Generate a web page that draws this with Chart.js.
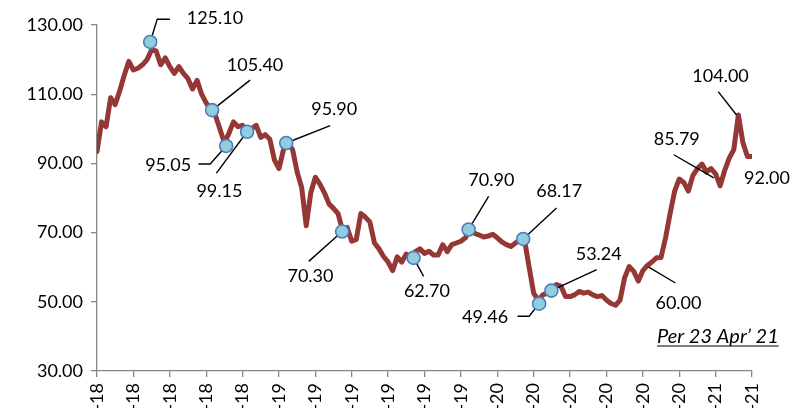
<!DOCTYPE html>
<html>
<head>
<meta charset="utf-8">
<script src="https://cdn.jsdelivr.net/npm/chart.js@4.4.0/dist/chart.umd.min.js"></script>
<style>
  html, body { margin: 0; padding: 0; background: #fff; overflow: hidden; }
</style>
</head>
<body>
<canvas id="chart" width="791" height="408"></canvas>
<script>
// x-axis tick labels (one every 8 points)
const tickLabels = [
  "Mar-18", "May-18", "Jul-18", "Sep-18", "Nov-18",
  "Jan-19", "Mar-19", "May-19", "Jul-19", "Sep-19", "Nov-19",
  "Jan-20", "Mar-20", "May-20", "Jul-20", "Sep-20", "Nov-20",
  "Jan-21", "Mar-21"
];

// price series
const prices = [
  93.4, 102, 100.6, 109, 107, 111, 115.5, 119.5, 117, 117.5,
  118.5, 120, 122.8, 122.5, 118.5, 120.5, 118, 116, 118, 116,
  114.5, 111.5, 114, 110, 107.5, 105.5, 104, 100, 96, 98.7,
  102, 100.6, 101, 99.5, 100, 101, 97.5, 98.3, 97, 91,
  88.5, 94, 96, 94, 87.5, 83, 72, 81.5, 86, 84,
  81.5, 78.3, 77, 75.5, 70.5, 71.5, 67.5, 68, 75.5, 74.5,
  73, 67, 65.3, 63.1, 61.5, 59, 63, 61.5, 63.8, 62.8,
  64.5, 65.3, 64, 64.6, 63.5, 63.5, 66.5, 64.5, 66.5, 67,
  67.5, 68.5, 70.8, 69.8, 69.3, 68.7, 69, 69.5, 68.5, 67.3,
  66.5, 66, 67, 67.8, 67.8, 60, 52.5, 50.5, 52, 52.5,
  53.5, 55, 54.5, 51.5, 51.5, 52, 53, 52.5, 52.8, 52,
  51.5, 51.8, 50.5, 49.5, 49, 50.5, 57, 60.2, 58.8, 56,
  59, 60.5, 61.5, 62.7, 62.8, 68.5, 75.5, 82, 85.5, 84.5,
  82, 86.5, 88.5, 89.8, 87.5, 88.5, 87, 83.5, 88, 91.5,
  94, 104, 96, 92, 92
];

const yTicks = [30, 50, 70, 90, 110, 130];

// call-outs: position (point index) and value
const markIdx = [11.7, 25.3, 28.4, 33.0, 41.6, 53.9, 69.6, 81.7, 93.7, 97.2, 99.9, 121.3, 135.6, 140.6, 144];
const markVal = [125.10, 105.40, 95.05, 99.15, 95.90, 70.30, 62.70, 70.90, 68.17, 49.46, 53.24, 60.00, 85.79, 104.00, 92.00];
const markDot = [true, true, true, true, true, true, true, true, true, true, true, false, false, false, false];

// leader path and text offsets (pixels from the point)
const calloutLayout = [
  { leader: [[7, -22.7], [19.7, -22.7]], text: [64.7, -24] },
  { leader: [[38, -30]], text: [43, -45] },
  { leader: [[-16, 18], [-27.7, 18]], text: [-58, 19] },
  { leader: [[-30.7, 41.4]], text: [-27.7, 59] },
  { leader: [[44, -17.4]], text: [48, -34] },
  { leader: [[-33.4, 29.8]], text: [-31.7, 45] },
  { leader: [[10, 18.5]], text: [13.3, 33] },
  { leader: [[20, -33]], text: [22.7, -49] },
  { leader: [[33.3, -31]], text: [36, -48] },
  { leader: [[-10, 12.6], [-21.6, 12.6]], text: [-54, 14] },
  { leader: [[45.3, -21]], text: [47.3, -36] },
  { leader: [[26.7, 15.8]], text: [29.7, 35.5] },
  { leader: [[-40, -23.2]], text: [-37, -39] },
  { leader: [[-18.3, -23.4]], text: [-16, -39] },
  { leader: [], text: [15, 22] }
];

const noteText = "Per 23 Apr\u2019 21";

const calloutPlugin = {
  id: "callouts",
  afterDatasetsDraw(chart) {
    const ctx = chart.ctx;
    const xs = chart.scales.x;
    const ys = chart.scales.y;
    ctx.save();
    ctx.font = "18px Lato";
    ctx.textAlign = "center";
    ctx.textBaseline = "middle";
    markIdx.forEach((idx, i) => {
      const px = xs.getPixelForValue(idx);
      const py = ys.getPixelForValue(markVal[i]);
      const lay = calloutLayout[i];
      if (lay.leader.length) {
        ctx.beginPath();
        ctx.moveTo(px, py);
        lay.leader.forEach(([dx, dy]) => ctx.lineTo(px + dx, py + dy));
        ctx.strokeStyle = "#000";
        ctx.lineWidth = 1.4;
        ctx.stroke();
      }
      if (markDot[i]) {
        ctx.beginPath();
        ctx.arc(px, py, 6.5, 0, Math.PI * 2);
        ctx.fillStyle = "#93cddd";
        ctx.fill();
        ctx.strokeStyle = "#4a7ebb";
        ctx.lineWidth = 1.6;
        ctx.stroke();
      }
      ctx.fillStyle = "#000";
      ctx.fillText(markVal[i].toFixed(2), px + lay.text[0], py + lay.text[1]);
    });

    // note in the lower right
    ctx.font = "italic 20px Lato";
    ctx.textAlign = "left";
    ctx.textBaseline = "alphabetic";
    const nx = 657, ny = 343;
    ctx.fillText(noteText, nx, ny);
    const w = ctx.measureText(noteText).width;
    ctx.beginPath();
    ctx.moveTo(nx, ny + 3);
    ctx.lineTo(nx + w, ny + 3);
    ctx.lineWidth = 1;
    ctx.stroke();
    ctx.restore();
  }
};

new Chart(document.getElementById("chart"), {
  type: "line",
  data: {
    datasets: [{
      data: prices.map((v, i) => ({ x: i, y: v })),
      borderColor: "#953735",
      borderWidth: 5,
      pointRadius: 0,
      tension: 0,
      borderJoinStyle: "round",
      borderCapStyle: "round"
    }]
  },
  options: {
    responsive: false,
    animation: false,
    layout: { padding: { top: 25, right: 39, left: 0, bottom: 0 } },
    plugins: { legend: { display: false }, tooltip: { enabled: false } },
    scales: {
      x: {
        type: "linear",
        min: 0,
        max: prices.length - 1,
        afterFit: (scale) => { scale.height = 37; },
        afterBuildTicks: (scale) => {
          scale.ticks = tickLabels.map((_, i) => ({ value: i * 8 }));
        },
        border: { color: "#868686", width: 1.3 },
        grid: { drawOnChartArea: false, tickLength: 6, color: "#868686", lineWidth: 1.3 },
        ticks: {
          minRotation: 90,
          maxRotation: 90,
          padding: 6,
          color: "#000",
          font: { family: "Lato", size: 18 },
          callback: (v) => tickLabels[Math.round(v / 8)]
        }
      },
      y: {
        min: 30,
        max: 130,
        afterFit: (scale) => { scale.width = 97; },
        afterBuildTicks: (scale) => {
          scale.ticks = yTicks.map((v) => ({ value: v }));
        },
        border: { color: "#868686", width: 1.3 },
        grid: { drawOnChartArea: false, tickLength: 6, color: "#868686", lineWidth: 1.3 },
        ticks: {
          padding: 8,
          color: "#000",
          font: { family: "Lato", size: 18 },
          callback: (v) => v.toFixed(2)
        }
      }
    }
  },
  plugins: [calloutPlugin]
});
</script>
</body>
</html>
